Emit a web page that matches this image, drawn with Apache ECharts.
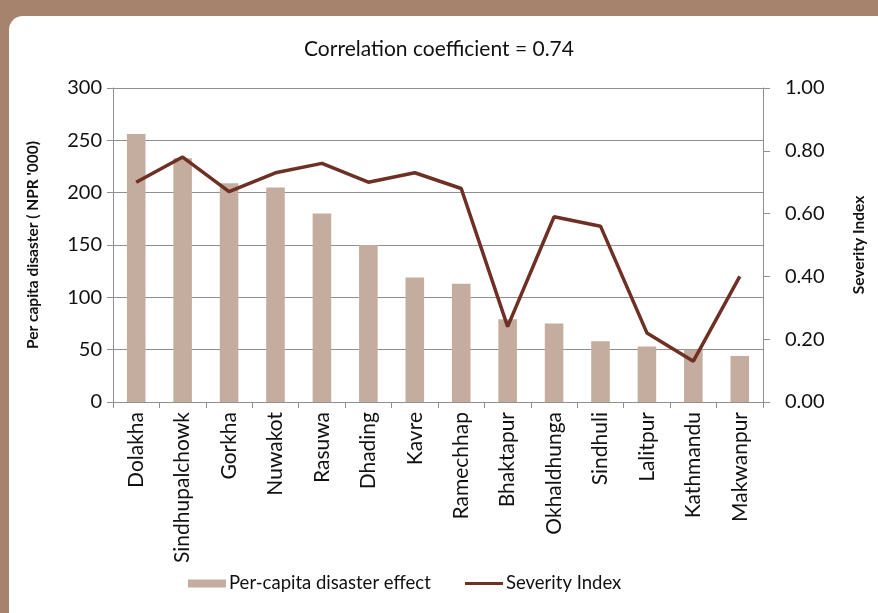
<!DOCTYPE html>
<html>
<head>
<meta charset="utf-8">
<script src="https://cdn.jsdelivr.net/npm/echarts@6/dist/echarts.min.js"></script>
<style>
  html, body { margin: 0; padding: 0; }
  body { width: 878px; height: 613px; background: #a6836c; position: relative; overflow: hidden; }
  #panel { position: absolute; left: 9px; top: 16px; width: 900px; height: 620px; background: #fff; border-top-left-radius: 14px; }
  #chart { position: absolute; left: 0; top: 0; width: 878px; height: 613px; }
</style>
</head>
<body>
<div id="panel"></div>
<div id="chart"></div>
<script>
// districts, in the order shown
var districts = ['Dolakha', 'Sindhupalchowk', 'Gorkha', 'Nuwakot', 'Rasuwa', 'Dhading', 'Kavre',
  'Ramechhap', 'Bhaktapur', 'Okhaldhunga', 'Sindhuli', 'Lalitpur', 'Kathmandu', 'Makwanpur'];
// per capita disaster effect, NPR '000
var perCapita = [256, 233, 209, 205, 180, 150, 119, 113, 79, 75, 58, 53, 50, 44];
// severity index
var severity = [0.70, 0.78, 0.67, 0.73, 0.76, 0.70, 0.73, 0.68, 0.24, 0.59, 0.56, 0.22, 0.13, 0.40];

var font = 'Lato';
var gridColor = '#8f8f8f';
var barColor = '#c4ad9e';
var lineColor = '#6e3024';

var chart = echarts.init(document.getElementById('chart'));
var legendText = { fontFamily: font, fontSize: 18.5, color: '#111', padding: [0, 0, 0, -2] };
var option = {
  animation: false,
  backgroundColor: 'transparent',
  textStyle: { fontFamily: font, color: '#111' },
  title: {
    text: 'Correlation coefficient = 0.74',
    left: 'center',
    top: 34,
    textStyle: { fontFamily: font, fontSize: 21, fontWeight: 'normal', color: '#111' }
  },
  // two legends so the line key can be thinner than the bar key
  legend: [
    {
      left: 188, top: 574, padding: 0,
      itemWidth: 38, itemHeight: 8,
      textStyle: legendText,
      data: [{ name: 'Per-capita disaster effect', icon: 'rect' }]
    },
    {
      left: 465, top: 574, padding: 0,
      itemWidth: 38, itemHeight: 3,
      textStyle: legendText,
      data: [{ name: 'Severity Index', icon: 'rect' }]
    }
  ],
  grid: { left: 113, right: 115, top: 88, bottom: 211, containLabel: false },
  xAxis: {
    type: 'category',
    data: districts,
    axisLine: { lineStyle: { color: gridColor, width: 1 } },
    axisTick: { show: true, length: 6, lineStyle: { color: gridColor } },
    axisLabel: { rotate: 90, fontSize: 21, color: '#111', margin: 10, interval: 0 }
  },
  yAxis: [
    {
      type: 'value',
      min: 0, max: 300, interval: 50,
      name: "Per capita disaster ( NPR '000)",
      nameLocation: 'middle',
      nameGap: 72,
      nameTextStyle: { fontFamily: font, fontSize: 15.5, fontWeight: 'bold', color: '#111' },
      axisLine: { show: true, lineStyle: { color: gridColor } },
      axisTick: { show: true, length: 6, lineStyle: { color: gridColor } },
      axisLabel: { fontSize: 20, color: '#111', margin: 11 },
      splitLine: { lineStyle: { color: gridColor, width: 1 } }
    },
    {
      type: 'value',
      min: 0, max: 1, interval: 0.2,
      name: 'Severity Index',
      nameLocation: 'middle',
      nameGap: 88,
      nameRotate: 90,
      nameTextStyle: { fontFamily: font, fontSize: 15.5, fontWeight: 'bold', color: '#111' },
      axisLine: { show: true, lineStyle: { color: gridColor } },
      axisTick: { show: true, length: 7, lineStyle: { color: gridColor } },
      axisLabel: { fontSize: 20, color: '#111', margin: 22, formatter: function (v) { return v.toFixed(2); } },
      splitLine: { show: false }
    }
  ],
  series: [
    {
      name: 'Per-capita disaster effect',
      type: 'bar',
      data: perCapita,
      barWidth: '40%',
      itemStyle: { color: barColor }
    },
    {
      name: 'Severity Index',
      type: 'line',
      yAxisIndex: 1,
      data: severity,
      showSymbol: false,
      symbol: 'none',
      lineStyle: { color: lineColor, width: 3.5 },
      itemStyle: { color: lineColor }
    }
  ]
};
chart.setOption(option);
</script>
</body>
</html>
